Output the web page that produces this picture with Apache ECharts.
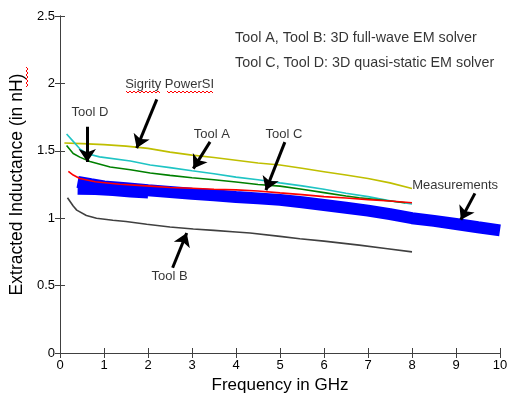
<!DOCTYPE html>
<html>
<head>
<meta charset="utf-8">
<script src="https://cdn.jsdelivr.net/npm/echarts@6/dist/echarts.min.js"></script>
<style>
  html, body { margin: 0; padding: 0; background: #fff; }
  #chart { width: 512px; height: 399px; }
</style>
</head>
<body>
<div id="chart"></div>
<script>
// curves: [frequency GHz, inductance nH]
const sigrity = [[0.1,1.558],[0.5,1.553],[1,1.546],[1.5,1.535],[2,1.518],[2.5,1.49],[3,1.468],[3.5,1.45],[4,1.43],[4.5,1.41],[5,1.395],[5.5,1.37],[6,1.345],[6.5,1.32],[7,1.295],[7.5,1.262],[8,1.22]];
const toolA = [[0.15,1.625],[0.3,1.57],[0.45,1.515],[0.6,1.48],[0.9,1.455],[1.6,1.424],[2.05,1.395],[2.5,1.375],[3,1.352],[3.5,1.33],[4,1.305],[4.5,1.285],[5,1.262],[5.5,1.24],[6,1.215],[6.5,1.185],[7,1.16],[7.5,1.13],[8,1.105]];
const toolD = [[0.15,1.54],[0.3,1.48],[0.45,1.453],[0.68,1.42],[1.14,1.38],[1.6,1.36],[2.05,1.335],[2.5,1.318],[3,1.3],[3.5,1.285],[4,1.268],[4.5,1.25],[5,1.238],[5.5,1.215],[6,1.19],[6.5,1.165],[6.8,1.152],[7.3,1.135],[7.85,1.115]];
const toolC = [[0.19,1.348],[0.3,1.32],[0.45,1.294],[0.8,1.27],[1.36,1.252],[2.05,1.238],[2.5,1.228],[3,1.222],[3.5,1.215],[4,1.21],[4.5,1.202],[5,1.188],[5.5,1.175],[6,1.16],[6.5,1.15],[7,1.138],[7.5,1.128],[8,1.115]];
const measured = [[0.4,1.27],[0.7,1.252],[1,1.235],[1.5,1.222],[2,1.207],[2.5,1.195],[3,1.182],[3.5,1.17],[4,1.158],[4.5,1.147],[5,1.136],[5.5,1.118],[6,1.098],[6.5,1.078],[7,1.056],[7.5,1.03],[8,1.0],[8.5,0.98],[9,0.957],[9.5,0.933],[10,0.91]];
// lower traces of the measured band, visible where it spreads out at low frequency
const measuredLow = [[0.4,1.2],[0.8,1.198],[1.2,1.19],[1.6,1.18],[2,1.172]];
const toolB = [[0.17,1.152],[0.3,1.09],[0.38,1.06],[0.6,1.02],[0.83,1.0],[1.2,0.985],[1.5,0.975],[1.97,0.955],[2.5,0.935],[3.03,0.92],[3.5,0.91],[4,0.898],[4.32,0.89],[5,0.865],[5.45,0.848],[6,0.83],[6.8,0.8],[7.4,0.775],[8,0.75]];

// annotation text (data coords) and arrows [from, to]
const labels = [
  { name: "Sigrity PowerSI", value: [2.49, 1.993] },
  { name: "Tool D", value: [0.68, 1.784] },
  { name: "Tool A", value: [3.45, 1.62] },
  { name: "Tool C", value: [5.09, 1.618] },
  { name: "Measurements", value: [8.98, 1.24] },
  { name: "Tool B", value: [2.49, 0.566] },
];
const notes = [
  { name: "Tool A, Tool B: 3D full-wave EM solver", value: [3.98, 2.336] },
  { name: "Tool C, Tool D: 3D quasi-static EM solver", value: [3.98, 2.152] },
];
const arrows = [
  [[2.2, 1.882], [1.743, 1.52]],
  [[0.62, 1.679], [0.62, 1.417]],
  [[3.41, 1.566], [3.03, 1.368]],
  [[5.11, 1.564], [4.68, 1.208]],
  [[9.43, 1.184], [9.11, 0.988]],
  [[2.56, 0.632], [2.88, 0.89]],
];

const FONT = "Arial, 'Liberation Sans', sans-serif";

function curve(data, color, width, z) {
  return {
    type: "line",
    data: data,
    symbol: "none",
    lineStyle: { color: color, width: width },
    z: z,
    silent: true,
  };
}

// red spell-check squiggle
function squiggle(x0, y0, len, vertical) {
  const pts = [];
  for (let i = 0; i <= len; i += 2) {
    const off = (i / 2) % 2 === 0 ? 0 : 2;
    pts.push(vertical ? [x0 + off, y0 + i] : [x0 + i, y0 + off]);
  }
  return {
    type: "polyline",
    shape: { points: pts },
    style: { stroke: "#ff0000", lineWidth: 1, fill: null },
    silent: true,
  };
}

const axisCommon = {
  axisLine: { show: true, lineStyle: { color: "#404040", width: 1 } },
  axisTick: { show: true, inside: true, length: 5, lineStyle: { color: "#404040" } },
  splitLine: { show: false },
};

const chart = echarts.init(document.getElementById("chart"));
chart.setOption({
  animation: false,
  backgroundColor: "#fff",
  textStyle: { fontFamily: FONT },
  grid: { left: 60, right: 12, top: 16, bottom: 43, containLabel: false },
  xAxis: [
    Object.assign({
      type: "value", min: 0, max: 10, interval: 1, position: "bottom",
      axisLabel: { color: "#000", fontSize: 13, margin: 6, fontFamily: FONT },
      name: "Frequency in GHz", nameLocation: "middle", nameGap: 24,
      nameTextStyle: { color: "#000", fontSize: 17, fontFamily: FONT },
    }, axisCommon),
    Object.assign({
      type: "value", min: 0, max: 10, interval: 1, position: "top",
      axisLabel: { show: false },
    }, axisCommon),
  ],
  yAxis: [
    Object.assign({
      type: "value", min: 0, max: 2.5, interval: 0.5, position: "left",
      axisLabel: { color: "#000", fontSize: 13, margin: 5, fontFamily: FONT },
      name: "Extracted Inductance (in nH)", nameLocation: "middle", nameGap: 28,
      nameTextStyle: { color: "#000", fontSize: 17.5, fontFamily: FONT },
    }, axisCommon),
    Object.assign({
      type: "value", min: 0, max: 2.5, interval: 0.5, position: "right",
      axisLabel: { show: false },
    }, axisCommon),
  ],
  series: [
    curve(measured, "#0000ff", 12, 2),
    curve(measuredLow, "#0000ff", 7, 2),
    curve(sigrity, "#bfbf00", 1.6, 3),
    curve(toolA, "#1fc4c4", 1.6, 3),
    curve(toolD, "#008000", 1.6, 3),
    curve(toolC, "#ff0000", 1.6, 3),
    curve(toolB, "#404040", 1.6, 3),
    {
      type: "lines",
      coordinateSystem: "cartesian2d",
      data: arrows.map(a => ({ coords: a })),
      symbol: ["none", "arrow"],
      symbolSize: 13,
      lineStyle: { color: "#000", width: 3, opacity: 1 },
      z: 5,
      silent: true,
    },
    {
      type: "scatter",
      data: labels,
      symbolSize: 0,
      label: { show: true, position: "inside", formatter: "{b}", color: "#000", fontSize: 13, fontFamily: FONT },
      z: 6,
      silent: true,
    },
    {
      type: "scatter",
      data: notes,
      symbolSize: 0,
      label: { show: true, position: "inside", align: "left", formatter: "{b}", color: "#000", fontSize: 14.3, fontFamily: FONT },
      z: 6,
      silent: true,
    },
  ],
  graphic: [
    squiggle(126, 91, 34, false),
    squiggle(167, 91, 46, false),
    squiggle(26, 67, 20, true),
  ],
});
</script>
</body>
</html>
